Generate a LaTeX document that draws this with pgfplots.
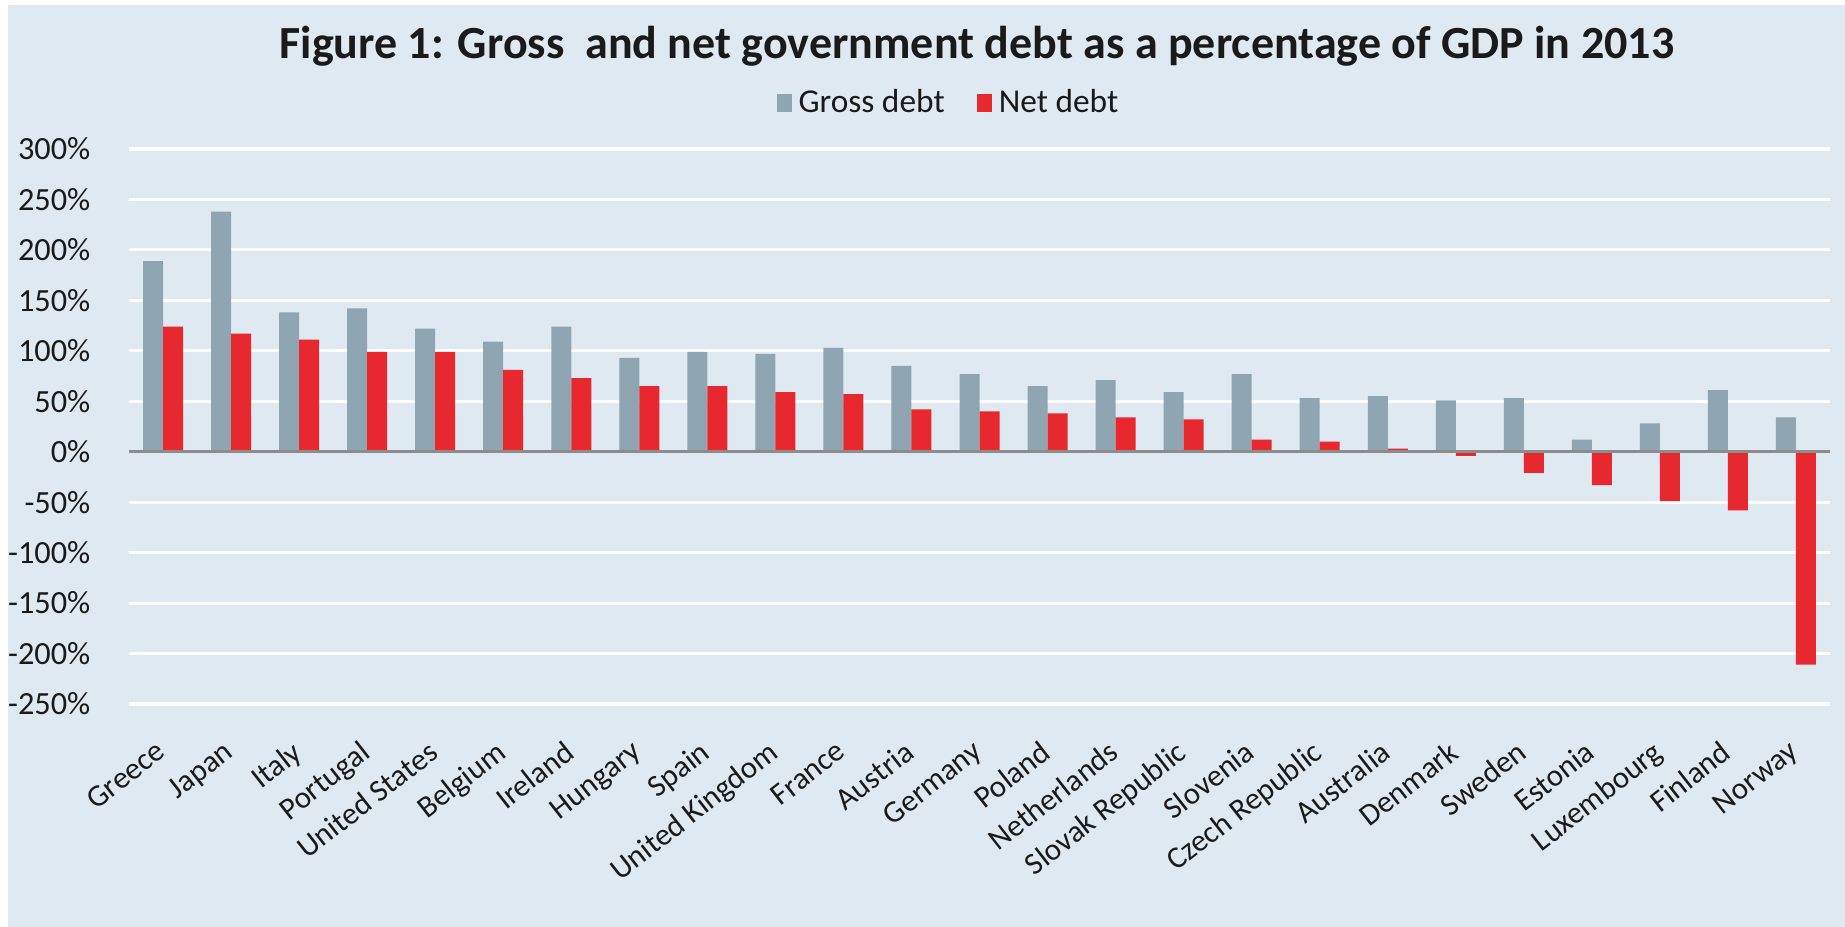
\documentclass[border=0pt]{standalone}
\usepackage{fontspec}
\setmainfont{Carlito}
\usepackage{pgfplots}
\usepackage{pgfplotstable}
\pgfplotsset{compat=1.18}
\definecolor{bgblue}{HTML}{DEE9F1}
\definecolor{grossc}{HTML}{8FA6B2}
\definecolor{netc}{HTML}{E8282F}
\definecolor{zeroc}{HTML}{8C8C8C}
\definecolor{txt}{HTML}{1A1A1A}

\pgfplotstableread{
idx gross net
0  189  124
1  238  117
2  138  111
3  142   99
4  122   99
5  109   81
6  124   73
7   93   65
8   99   65
9   97   59
10 103   57
11  85   42
12  77   40
13  65   38
14  71   34
15  59   32
16  77   12
17  53   10
18  55    3
19  51   -4
20  53  -21
21  12  -33
22  28  -49
23  61  -58
24  34 -211
}\datatable

\begin{document}
\begin{tikzpicture}
\path[use as bounding box] (0,0) rectangle (18.45,9.27);
\fill[white] (0,0) rectangle (18.45,9.27);
\fill[bgblue] (0.08,0) rectangle (18.45,9.22);
\node[anchor=base, text=txt, font=\fontsize{13.1}{15}\selectfont\bfseries] at (9.77,8.68) {Figure 1: Gross\ \ and net government debt as a percentage of GDP in 2013};
\begin{axis}[
  at={(1.29cm,2.23cm)}, anchor=south west,
  scale only axis, width=17.01cm, height=5.55cm,
  ybar=0pt, bar width=0.2cm,
  xmin=-0.5, xmax=24.5, ymin=-250, ymax=300,
  ytick={-250,-200,...,300},
  xtick={0,...,24},
  xticklabels={Greece, Japan, Italy, Portugal, United States, Belgium, Ireland, Hungary, Spain, United Kingdom, France, Austria, Germany, Poland, Netherlands, Slovak Republic, Slovenia, Czech Republic, Australia, Denmark, Sweden, Estonia, Luxembourg, Finland, Norway},
  axis line style={draw=none},
  major tick length=0pt,
  ymajorgrids, grid style={white, line width=0.9pt},
  yticklabel={\pgfmathprintnumber{\tick}\%},
  yticklabel style={/pgf/number format/assume math mode=true, font=\fontsize{9.2}{11}\selectfont, text=txt, anchor=east, inner sep=0pt, xshift=-0.38cm},
  xticklabel style={font=\fontsize{8.8}{10}\selectfont, text=txt, rotate=38, anchor=north east, inner sep=0pt, yshift=-0.22cm, xshift=-0.28cm},
  legend columns=2,
  legend style={at={(0.4832,1.082)}, anchor=center, draw=none, fill=none, font=\fontsize{9.5}{11}\selectfont, text=txt, /tikz/every even column/.append style={column sep=0.25cm}},
]
\addplot[fill=grossc, draw=none, legend image code/.code={\fill[grossc] (0cm,-0.09cm) rectangle (0.15cm,0.09cm);}] table[x=idx, y=gross] {\datatable};
\addplot[fill=netc, draw=none, legend image code/.code={\fill[netc] (0cm,-0.09cm) rectangle (0.15cm,0.09cm);}] table[x=idx, y=net] {\datatable};
\legend{Gross debt, Net debt}
\draw[zeroc, line width=1pt] (axis cs:-0.5,0) -- (axis cs:24.5,0);
\end{axis}
\end{tikzpicture}
\end{document}
